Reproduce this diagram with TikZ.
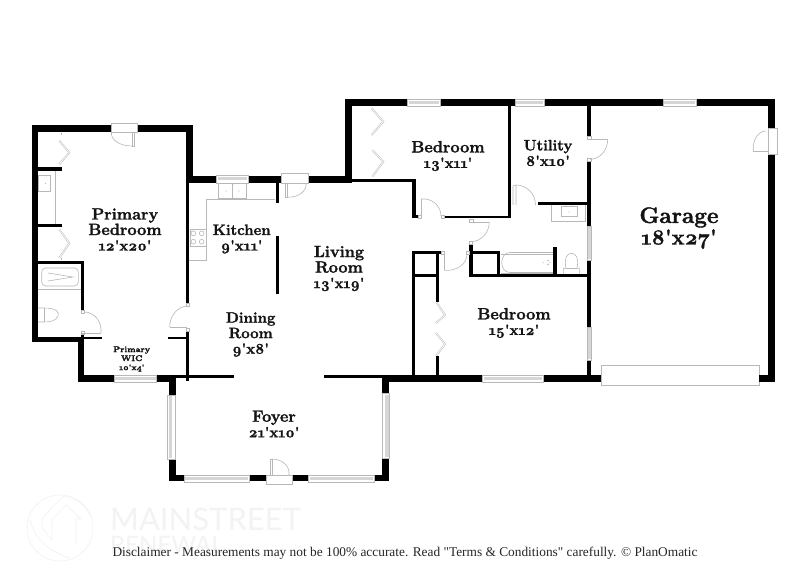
\documentclass[tikz,border=0pt]{standalone}
\usepackage{fontspec}
\usetikzlibrary{calc}
\newfontfamily\labfont{Latin Modern Roman}[Numbers=OldStyle,BoldFeatures={FakeBold=1.6}]
\newfontfamily\discfont{Liberation Serif}
\newfontfamily\wmfont{Lato}
\definecolor{fixt}{HTML}{B8B8B8}
\definecolor{winband}{HTML}{D6D6D6}
\definecolor{wmark}{HTML}{F3F3F3}
\newcommand{\ft}{\textquotesingle}
\newcommand{\dm}{\fontsize{14.8}{15.5}\selectfont}
\newcommand{\W}[4]{\fill[black] (#1,#2) rectangle (#3,#4);}
% windows: outer box then inner band
\newcommand{\HW}[4]{\filldraw[fixt,fill=white,line width=.6pt] (#1,#2) rectangle (#3,#4);
  \fill[winband] ({#1+1},{#2+1.5}) rectangle ({#3-1},{#2+4.5});}
\newcommand{\VW}[4]{\filldraw[fixt,fill=white,line width=.6pt] (#1,#2) rectangle (#3,#4);
  \fill[winband] ({#1+1},{#2+1}) rectangle ({#1+4.5},{#4-1});}
% door frame
\newcommand{\FR}[4]{\filldraw[fixt,fill=white,line width=.6pt] (#1,#2) rectangle (#3,#4);}
% swing arc: centre, start, end
\newcommand{\SW}[6]{\draw[fixt,line width=.6pt] (#3,#4) .. controls ($(#3,#4)!.55!({#3+#5-#1},{#4+#6-#2})$) and ($(#5,#6)!.55!({#3+#5-#1},{#4+#6-#2})$) .. (#5,#6);}
% folding door leaf
\newcommand{\FD}[6]{\draw[fixt,line width=1.7pt] (#1,#2) -- (#3,#4) -- (#5,#6);\draw[white,line width=.7pt] (#1,#2) -- (#3,#4) -- (#5,#6);}
\tikzset{
  room/.style={font=\labfont\bfseries\fontsize{16.3}{15.5}\selectfont,align=center,inner sep=0pt,text=black!92},
  roomsm/.style={room,font=\labfont\bfseries\fontsize{15}{15.5}\selectfont},
  fix/.style={draw=fixt,line width=.6pt},
}
\begin{document}
\begin{tikzpicture}[x=1pt,y=-1pt]
\useasboundingbox (0,0) rectangle (809,588);
\fill[white] (0,0) rectangle (809,588);

%% watermark
\begin{scope}[wmark,line width=.7pt]
\draw (60,528) circle (33);
\draw (42,528) -- (42,519) -- (53,506) -- (64,496) (42,528) -- (52,540) (52,540) -- (52,520) -- (66,505) -- (81,519) -- (76,519) -- (76,545);
\draw (30,520) .. controls (35,540) and (50,552) .. (70,558);
\draw (64,496) .. controls (75,497) and (85,505) .. (90,515);
\end{scope}
\node[font=\wmfont\fontsize{31}{31}\selectfont,text=wmark,inner sep=0pt,anchor=west] (wm1) at (110,519) {MAINSTREET};
\node[font=\wmfont\fontsize{24}{24}\selectfont,text=wmark,inner sep=0pt,anchor=west] (wm2) at (110,545) {RENEWAL};

%% fixtures (under walls)
% primary closets & sink
\draw[fix] (55,170) -- (55,224);
\draw[fix] (38,175) rectangle (50.7,191.7);
\fill[fixt] (45.5,183.5) circle (.7);
\draw[fix] (38,289.3) -- (80.7,289.3);
\draw[fix,rounded corners=4pt] (41.7,268) rectangle (78.3,286);
\draw[fix] (48,273) -- (73,277) -- (48,281);
\draw[fix] (38,308) -- (44,308) .. controls (56,308) and (60,312) .. (58,316) .. controls (56,321) and (50,322) .. (44,322) -- (38,322);
\draw[fix] (44,308) -- (44,322);
\FD{59.3}{140.7}{69.3}{152.7}{59.3}{164.3}
\FD{59.3}{229.3}{69.3}{243.3}{59.3}{258}
\draw[fix] (61,133) -- (61,135) (61,258) -- (61,260);
% kitchen
\draw[fix] (189,260) -- (206,260) -- (206,199) -- (275,199);
\draw[fix] (190,229.3) rectangle (206,246);
\foreach \bx/\by in {193.3/233.3,201.7/233.3,193.3/241.7,201.7/241.7}{\draw[fix] (\bx,\by) circle (2.4);}
\draw[fix] (218.3,183) rectangle (246.7,198.3);
\draw[fix] (232.5,183) -- (232.5,198.3);
\fill[fixt] (226,191) circle (.6) (239,191) circle (.6) (232.5,184) circle (1);
% utility sink
\draw[fix] (551.7,204.7) -- (551.7,221) -- (585.7,221) -- (585.7,204.7);
\draw[fix] (561,206.7) rectangle (577.7,216.7);
\fill[fixt] (569,212) circle (.6) (566,206) circle (.7) (572,206) circle (.7);
% tub
\draw[fix] (500.7,254) -- (553,254) (500.7,273) -- (553,273);
\draw[fix] (553,252.5) -- (510,252.5) .. controls (499,252.5) and (499,272.5) .. (510,272.5) -- (553,272.5);
\fill[fixt] (543,262.7) circle (.6) (548,260.5) circle (.8) (548,264.5) circle (.8) (550,262.7) circle (.6);
% toilet
\draw[fix] (563.3,274) -- (563.3,268.3) -- (566,268.3) .. controls (564,258) and (567,253.3) .. (571.5,253.3) .. controls (576,253.3) and (579,258) .. (577,268.3) -- (579.3,268.3) -- (579.3,274);
\draw[fix] (566,268.3) -- (577,268.3);
% top bedroom closets
\FD{371.7}{108.3}{383.3}{121.7}{371.7}{135}
\FD{372.3}{150}{383.3}{161.7}{372.3}{176.7}
% lower bedroom closets
\FD{436}{301.7}{445}{315}{436}{323}
\FD{436}{333}{445}{344}{436}{356}
% garage door
\draw[fixt,line width=.8pt] (601,365) rectangle (759.3,385);

%% walls
% primary
\W{32}{125}{111}{132}
\W{137.7}{125}{193}{132}
\W{32}{125}{38}{342.3}
\W{186}{125}{193}{183}
\W{186}{183}{189.3}{304}
\W{186}{330.7}{189.3}{381}
\W{32}{336.7}{84}{342.3}
\W{84}{336.5}{102.3}{339.3}
\W{168.3}{336.5}{189.3}{339.3}
\W{77.7}{336.7}{84}{381.7}
\W{77.7}{375}{114.3}{381.7}
\W{156.7}{375}{176}{381.7}
\W{38}{167.3}{62.3}{170.7}
\W{38}{224}{62.3}{227.3}
\W{38}{261}{84}{264.3}
\W{80.7}{261}{84}{310}
\W{80.7}{333}{84}{337}
% kitchen top and living top
\W{186}{176}{217}{182.7}
\W{248.3}{176}{281.7}{182.7}
\W{308.3}{176}{351.7}{182.7}
\W{351}{179.3}{416}{182.5}
\W{276}{182}{279.3}{202.7}
\W{276}{236}{279.3}{294}
% top bedroom
\W{345}{99.3}{407.7}{106}
\W{345}{99.3}{351.7}{183}
\W{440}{99.3}{515}{106}
\W{544.3}{99.3}{663}{106}
\W{696}{99.3}{775.3}{106}
\W{412.3}{179.3}{416}{218.3}
\W{412.3}{215.5}{418}{218.3}
\W{444}{215.7}{511}{218.3}
\W{507.7}{106}{511}{218.3}
% garage
\W{768}{99.3}{775.3}{128}
\W{768}{154}{775.3}{381.7}
\W{759.3}{375}{775.3}{381.7}
\W{587.3}{106}{591}{136}
\W{587.3}{161.7}{591}{226.7}
\W{587.3}{260}{591}{327}
\W{587.3}{360}{591}{378}
\W{537.7}{201.7}{591}{204.7}
% bath block and closets
\W{412.3}{251}{441}{253.7}
\W{412.3}{251}{415.3}{378}
\W{435.7}{251}{439}{301.7}
\W{435.7}{356}{439}{378}
\W{412.3}{274}{439}{277.3}
\W{469.3}{244.3}{472.7}{277}
\W{469.3}{251}{500.3}{253.7}
\W{497.3}{251}{500.3}{277}
\W{469.3}{274}{591}{277}
\W{553.3}{247.3}{556.7}{277}
% bottom
\W{156.7}{375}{234}{378.3}
\W{324.3}{375}{389}{378.3}
\W{382.3}{375}{482.7}{381.7}
\W{543}{375}{601}{381.7}
% foyer
\W{169.3}{375}{176}{395}
\W{169.3}{459.3}{176}{481}
\W{382.3}{375}{389}{393.3}
\W{382.3}{458}{389}{481}
\W{169.3}{475}{184}{481}
\W{249.3}{475}{266.3}{481}
\W{292.3}{475}{308.7}{481}
\W{374}{475}{389}{481}

%% windows
\HW{216.7}{175.3}{248.3}{183}
\HW{114.3}{375}{156.7}{382.5}
\HW{407.7}{99.3}{440}{106}
\HW{515}{99.3}{544.3}{106}
\HW{663}{99.3}{696}{106}
\HW{482.7}{375}{543}{382.5}
\HW{184}{475}{249.3}{482.3}
\HW{308.7}{475}{374}{482.3}
\VW{167.7}{395}{175}{459.3}
\begin{scope}
\filldraw[fixt,fill=white,line width=.6pt] (382.5,393.3) rectangle (389.5,458);
\fill[winband] (384.5,394.5) rectangle (388.5,457);
\filldraw[fixt,fill=white,line width=.6pt] (587.3,226.7) rectangle (591,260);
\fill[winband] (587.8,227.5) rectangle (590.5,259);
\filldraw[fixt,fill=white,line width=.6pt] (587.3,327) rectangle (591,360);
\fill[winband] (587.8,328) rectangle (590.5,359);
\end{scope}

%% doors
% primary top
\FR{111}{123}{137.7}{132}
\draw[fix] (134.3,132) -- (134.3,146) -- (132,146) -- (132,132);
\SW{134.3}{132}{111.5}{132}{132}{146}
% primary bath
\FR{81}{310}{84}{313}
\FR{81}{331}{84}{334.5}
\draw[fix] (82,333) -- (101,333);
\SW{82}{333}{84}{312}{101}{333}
% primary-dining
\FR{186}{303}{189.3}{306}
\FR{186}{328}{189.3}{331}
\draw[fix] (169.7,327) -- (187,327);
\SW{188}{327}{188}{306}{169.7}{327}
% kitchen door
\FR{281.7}{173.3}{308.3}{183}
\draw[fix] (285.3,183) -- (285.3,197.3) -- (287.5,197.3) -- (287.5,183);
\SW{285.3}{183}{287.5}{197.3}{306}{183}
% foyer door
\FR{266.3}{475}{292.3}{484}
\draw[fix] (270,475) -- (270,459) -- (272,459) -- (272,475);
\SW{270}{475}{272}{459}{289}{475}
% top bedroom door
\FR{418}{215.5}{421}{218.3}
\FR{441}{215.5}{444}{218.3}
\draw[fix] (421,199) -- (421,215);
\SW{421}{218}{421}{199}{441}{216}
% utility inner
\draw[fix] (513,205) -- (513,186) -- (516,185) -- (516,205);
\SW{516}{205}{516}{185}{535.5}{205}
% hall doors
\FR{469.5}{219}{473}{222}
\FR{469.5}{241}{472.7}{244.5}
\draw[fix] (471,222) -- (489.3,222);
\SW{470.7}{222}{489.3}{222}{470.7}{241.7}
\FR{441}{251}{444.5}{254}
\FR{466}{251.3}{469.5}{254}
\draw[fix] (444.3,253) -- (444.3,270.3);
\SW{444.3}{252}{444.3}{270.3}{467}{254}
% utility-garage door
\FR{587.3}{136}{591}{139.5}
\FR{587.3}{158.5}{591}{161.7}
\draw[fix] (590,139.5) -- (607.7,139.5);
\SW{590}{139.5}{607.7}{139.5}{590}{159.3}
% garage exterior door
\FR{768}{128}{777.7}{154}
\draw[fix] (753.3,151.7) -- (768,151.7);
\SW{768}{151.7}{753.3}{151.7}{766}{131}

%% labels
\node[room] (primary) at (125,229.5) {Primary\\Bedroom\\\dm 12\ft x20\ft};
\node[room,font=\labfont\bfseries\fontsize{8.3}{9}\selectfont] (wic) at (131.7,359) {Primary\\WIC\\\fontsize{8}{9}\selectfont 10\ft x4\ft};
\node[roomsm] (kitchen) at (241.7,239) {Kitchen\\\dm 9\ft x11\ft};
\node[room] (living) at (339,268.5) {Living\\Room\\\dm 13\ft x19\ft};
\node[roomsm] (dining) at (250.7,334.5) {Dining\\Room\\\dm 9\ft x8\ft};
\node[room] (bed1) at (448,156) {Bedroom\\\dm 13\ft x11\ft};
\node[roomsm] (utility) at (548,153) {Utility\\\dm 8\ft x10\ft};
\node[room] (bed2) at (514,323) {Bedroom\\\dm 15\ft x12\ft};
\node[room] (foyer) at (274,424) {Foyer\\\dm 21\ft x10\ft};
\node[room,font=\labfont\bfseries\fontsize{22.5}{21.5}\selectfont] (garage) at (679,228) {Garage\\\fontsize{21.5}{21.5}\selectfont 18\ft x27\ft};
\node[font=\discfont\fontsize{13.35}{13.35}\selectfont,inner sep=0pt,text=black!85] (disc) at (405,553) {Disclaimer - Measurements may not be 100\% accurate. Read "Terms \& Conditions" carefully. © PlanOmatic};
\end{tikzpicture}
\end{document}
